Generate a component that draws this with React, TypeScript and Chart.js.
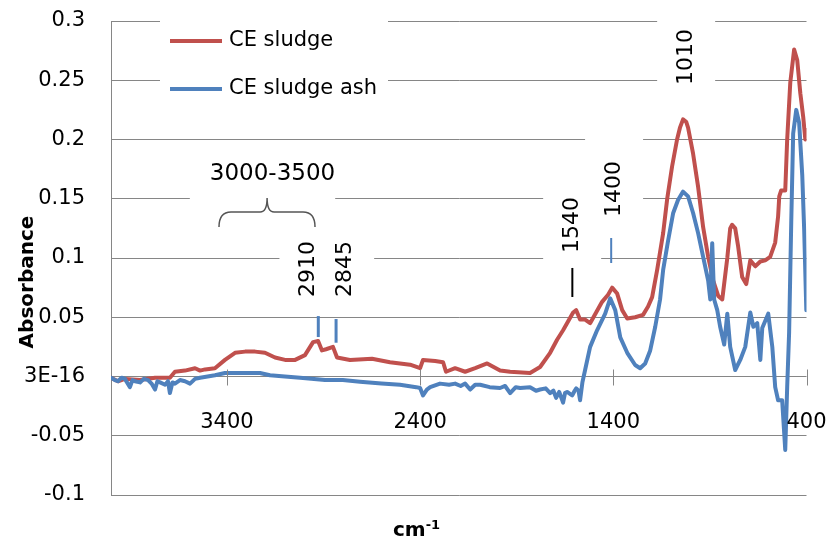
import React, { useEffect, useRef } from "react";
import { Chart, registerables } from "chart.js";

Chart.register(...registerables);

// ---- data (wavenumber cm-1, absorbance) ----
const seriesNames = ["CE sludge", "CE sludge ash"];

const sludgeWn = [
  4000, 3964, 3928, 3850, 3772, 3695, 3669, 3617, 3565, 3539, 3513, 3462, 3410, 3358, 3306, 3254,
  3203, 3151, 3099, 3047, 2996, 2954, 2928, 2908, 2887, 2851, 2830, 2763, 2649, 2556, 2452, 2400,
  2385, 2322, 2281, 2266, 2219, 2167, 2115, 2053, 1986, 1934, 1831, 1779, 1727, 1691, 1660, 1608,
  1592, 1572, 1546, 1520, 1489, 1458, 1427, 1406, 1380, 1354, 1328, 1287, 1246, 1220, 1199, 1173,
  1142, 1121, 1096, 1070, 1055, 1039, 1023, 1013, 987, 961, 935, 909, 883, 857, 836, 810, 795, 785,
  769, 754, 733, 712, 691, 665, 639, 614, 588, 562, 547, 541, 531, 510, 500, 484, 464, 448, 432,
  417, 406, 400,
];
const sludgeAbs = [
  -0.001, -0.004, -0.002, -0.003, -0.001, -0.001, 0.004, 0.005, 0.007, 0.005, 0.006, 0.007, 0.014,
  0.02, 0.021, 0.021, 0.02, 0.016, 0.014, 0.014, 0.018, 0.029, 0.03, 0.022, 0.023, 0.025, 0.016,
  0.014, 0.015, 0.012, 0.01, 0.007, 0.014, 0.013, 0.012, 0.004, 0.007, 0.004, 0.007, 0.011, 0.005,
  0.004, 0.003, 0.008, 0.02, 0.031, 0.039, 0.054, 0.056, 0.048, 0.048, 0.045, 0.054, 0.063, 0.069,
  0.075, 0.07, 0.056, 0.049, 0.05, 0.052, 0.059, 0.067, 0.09, 0.121, 0.15, 0.177, 0.2, 0.21, 0.217,
  0.215, 0.21, 0.188, 0.16, 0.126, 0.101, 0.081, 0.068, 0.065, 0.1, 0.125, 0.128, 0.125, 0.11,
  0.084, 0.078, 0.098, 0.093, 0.097, 0.098, 0.101, 0.113, 0.135, 0.152, 0.157, 0.157, 0.2, 0.248,
  0.276, 0.267, 0.239, 0.219, 0.2, 0.208,
];

const ashWn = [
  4000, 3980, 3964, 3945, 3928, 3902, 3889, 3876, 3850, 3830, 3808, 3790, 3772, 3760, 3746, 3720,
  3705, 3695, 3682, 3669, 3643, 3617, 3591, 3565, 3539, 3500, 3462, 3410, 3300, 3229, 3177, 3100,
  3021, 2892, 2800, 2711, 2600, 2504, 2420, 2400, 2385, 2365, 2348, 2297, 2250, 2219, 2190, 2167,
  2141, 2115, 2089, 2040, 1986, 1960, 1934, 1905, 1882, 1831, 1800, 1779, 1750, 1727, 1710, 1696,
  1680, 1660, 1650, 1639, 1613, 1600, 1592, 1580, 1572, 1560, 1546, 1520, 1484, 1442, 1416, 1390,
  1364, 1328, 1287, 1261, 1235, 1209, 1183, 1158, 1142, 1116, 1090, 1065, 1039, 1013, 987, 961,
  935, 909, 898, 888, 878, 862, 847, 826, 810, 795, 769, 743, 717, 691, 675, 655, 639, 629, 598,
  577, 562, 547, 526, 510, 500, 490, 479, 469, 453, 438, 422, 412, 401,
];
const ashAbs = [
  -0.001, -0.003, -0.004, -0.001, -0.002, -0.009, -0.003, -0.004, -0.005, -0.002, -0.003, -0.006,
  -0.011, -0.004, -0.005, -0.007, -0.004, -0.014, -0.005, -0.006, -0.003, -0.004, -0.006, -0.002,
  -0.001, 0.0, 0.001, 0.003, 0.003, 0.003, 0.001, 0.0, -0.001, -0.003, -0.003, -0.0045, -0.006,
  -0.007, -0.009, -0.0097, -0.016, -0.011, -0.009, -0.006, -0.007, -0.006, -0.008, -0.006, -0.011,
  -0.007, -0.007, -0.009, -0.0097, -0.008, -0.014, -0.009, -0.0097, -0.009, -0.012, -0.011, -0.01,
  -0.014, -0.012, -0.018, -0.013, -0.022, -0.014, -0.013, -0.016, -0.012, -0.01, -0.012, -0.02,
  -0.005, 0.0055, 0.025, 0.039, 0.053, 0.066, 0.056, 0.033, 0.02, 0.0097, 0.007, 0.011, 0.022,
  0.042, 0.065, 0.09, 0.115, 0.138, 0.149, 0.156, 0.152, 0.138, 0.121, 0.101, 0.081, 0.065, 0.1125,
  0.065, 0.056, 0.042, 0.027, 0.053, 0.025, 0.0055, 0.014, 0.025, 0.054, 0.042, 0.045, 0.014, 0.041,
  0.053, 0.025, -0.009, -0.02, -0.02, -0.062, -0.009, 0.037, 0.13, 0.205, 0.225, 0.214, 0.17, 0.124,
  0.056,
];

const xTickValues = [3400, 2400, 1400, 400];
const xTickLabels = ["3400", "2400", "1400", "400"];
const yTickLabels = ["-0.1", "-0.05", "3E-16", "0.05", "0.1", "0.15", "0.2", "0.25", "0.3"];

// annotation texts and where they sit (in data coordinates)
const peakLabels = [
  { text: "2910", wn: 2978, abs: 0.0671 },
  { text: "2845", wn: 2788, abs: 0.0671 },
  { text: "1540", wn: 1613, abs: 0.1042 },
  { text: "1400", wn: 1396, abs: 0.1346 },
  { text: "1010", wn: 1023, abs: 0.246 },
];
const peakMarks = [
  { wn: 2927, from: 0.0333, to: 0.051, color: "#4F81BD", width: 3 },
  { wn: 2835, from: 0.0285, to: 0.0485, color: "#4F81BD", width: 3 },
  { wn: 1612, from: 0.0671, to: 0.0916, color: "#000000", width: 2 },
  { wn: 1411, from: 0.0958, to: 0.1169, color: "#4F81BD", width: 2 },
];
const rangeLabel = { text: "3000-3500", wn: 3164, abs: 0.1658, braceFrom: 3441, braceTo: 2944, braceTip: 3192 };

const RED = "#C0504D";
const BLUE = "#4F81BD";
const GRID = "#868686";
const FONT = "DejaVu Sans";

const overlayPlugin = {
  id: "overlay",
  afterDraw(chart: any) {
    const { ctx, chartArea } = chart;
    const xs = chart.scales.x;
    const ys = chart.scales.y;
    const px = (v: number) => xs.getPixelForValue(v);
    const py = (v: number) => ys.getPixelForValue(v);
    ctx.save();

    // crossing tick marks and labels on the x axis (axis sits at y = 0)
    const zero = Math.round(py(0)) + 0.5;
    ctx.strokeStyle = GRID;
    ctx.lineWidth = 1;
    ctx.fillStyle = "#000";
    ctx.font = `21px "${FONT}"`;
    ctx.textAlign = "center";
    ctx.textBaseline = "middle";
    xTickValues.forEach((v, i) => {
      const x = Math.round(px(v)) + 0.5;
      ctx.beginPath();
      ctx.moveTo(x, zero - 8);
      ctx.lineTo(x, zero + 8);
      ctx.stroke();
      ctx.fillText(xTickLabels[i], px(v), zero + 45);
    });

    // white boxes behind the text boxes
    ctx.fillStyle = "#ffffff";
    ctx.fillRect(chartArea.left + 49, chartArea.top - 9, 228, 100);
    ctx.font = `22px "${FONT}"`;
    peakLabels.forEach((l) => {
      const cx = px(l.wn);
      const sy = py(l.abs);
      const w = ctx.measureText(l.text).width;
      ctx.fillRect(cx - 29, sy - w - 28, 58, w + 38);
    });
    ctx.font = `23px "${FONT}"`;
    {
      const cx = px(rangeLabel.wn);
      const by = py(rangeLabel.abs);
      const w = ctx.measureText(rangeLabel.text).width;
      ctx.fillRect(cx - w / 2 - 20, by - 35, w + 20, 60);
    }

    // legend
    const items = [
      { name: seriesNames[0], color: RED, y: chartArea.top + 20 },
      { name: seriesNames[1], color: BLUE, y: chartArea.top + 68 },
    ];
    items.forEach((it) => {
      ctx.strokeStyle = it.color;
      ctx.lineWidth = 4;
      ctx.beginPath();
      ctx.moveTo(chartArea.left + 59, it.y);
      ctx.lineTo(chartArea.left + 111, it.y);
      ctx.stroke();
      ctx.fillStyle = "#000";
      ctx.font = `21px "${FONT}"`;
      ctx.textAlign = "left";
      ctx.textBaseline = "middle";
      ctx.fillText(it.name, chartArea.left + 118, it.y);
    });

    // peak marks
    peakMarks.forEach((m) => {
      ctx.strokeStyle = m.color;
      ctx.lineWidth = m.width;
      const x = px(m.wn);
      ctx.beginPath();
      ctx.moveTo(x, py(m.from));
      ctx.lineTo(x, py(m.to));
      ctx.stroke();
    });

    // rotated peak labels
    ctx.fillStyle = "#000";
    ctx.font = `22px "${FONT}"`;
    peakLabels.forEach((l) => {
      ctx.save();
      ctx.translate(px(l.wn), py(l.abs));
      ctx.rotate(-Math.PI / 2);
      ctx.textAlign = "left";
      ctx.textBaseline = "middle";
      ctx.fillText(l.text, 0, 0);
      ctx.restore();
    });

    // range label and brace
    ctx.font = `23px "${FONT}"`;
    ctx.textAlign = "center";
    ctx.textBaseline = "alphabetic";
    ctx.fillText(rangeLabel.text, px(rangeLabel.wn), py(rangeLabel.abs));
    {
      const x1 = px(rangeLabel.braceFrom);
      const x2 = px(rangeLabel.braceTo);
      const xm = px(rangeLabel.braceTip);
      const yt = py(rangeLabel.abs) + 18;
      const ym = yt + 14;
      const yb = yt + 29;
      ctx.strokeStyle = "#555555";
      ctx.lineWidth = 1.5;
      ctx.beginPath();
      ctx.moveTo(x1, yb);
      ctx.quadraticCurveTo(x1, ym, x1 + 12, ym);
      ctx.lineTo(xm - 7, ym);
      ctx.quadraticCurveTo(xm, ym, xm, yt);
      ctx.quadraticCurveTo(xm, ym, xm + 7, ym);
      ctx.lineTo(x2 - 12, ym);
      ctx.quadraticCurveTo(x2, ym, x2, yb);
      ctx.stroke();
    }

    // axis titles
    ctx.fillStyle = "#000";
    ctx.font = `bold 20px "${FONT}"`;
    ctx.save();
    ctx.translate(28, 282);
    ctx.rotate(-Math.PI / 2);
    ctx.textAlign = "center";
    ctx.textBaseline = "middle";
    ctx.fillText("Absorbance", 0, 0);
    ctx.restore();

    ctx.textAlign = "left";
    ctx.textBaseline = "alphabetic";
    ctx.fillText("cm", 393, 536);
    const cmW = ctx.measureText("cm").width;
    ctx.font = `bold 13px "${FONT}"`;
    ctx.fillText("-1", 393 + cmW, 529);

    ctx.restore();
  },
};

export default function App() {
  const ref = useRef<HTMLCanvasElement>(null);
  useEffect(() => {
    const canvas = ref.current;
    if (!canvas) return;
    const chart = new Chart(canvas, {
      type: "line",
      data: {
        datasets: [
          {
            label: seriesNames[0],
            data: sludgeWn.map((w, i) => ({ x: w, y: sludgeAbs[i] })),
            borderColor: RED,
            backgroundColor: RED,
            borderWidth: 4,
            pointRadius: 0,
            tension: 0,
            borderJoinStyle: "round",
            borderCapStyle: "round",
            order: 1,
          },
          {
            label: seriesNames[1],
            data: ashWn.map((w, i) => ({ x: w, y: ashAbs[i] })),
            borderColor: BLUE,
            backgroundColor: BLUE,
            borderWidth: 4,
            pointRadius: 0,
            tension: 0,
            borderJoinStyle: "round",
            borderCapStyle: "round",
            order: 0,
          },
        ],
      },
      options: {
        animation: false,
        responsive: false,
        devicePixelRatio: 1,
        layout: { padding: { left: 0, top: 21, right: 21.5, bottom: 46 } },
        plugins: { legend: { display: false }, tooltip: { enabled: false }, title: { display: false } },
        scales: {
          x: {
            type: "linear",
            min: 400,
            max: 4000,
            reverse: true,
            position: "bottom",
            afterFit: (s: any) => {
              s.height = 0;
              s.paddingLeft = 0;
              s.paddingRight = 0;
            },
            ticks: { display: false },
            grid: { display: false, drawTicks: false },
            border: { display: false },
          },
          y: {
            type: "linear",
            min: -0.1,
            max: 0.3,
            afterFit: (s: any) => {
              s.width = 111;
              s.paddingTop = 0;
              s.paddingBottom = 0;
            },
            ticks: {
              stepSize: 0.05,
              padding: 26,
              color: "#000",
              font: { family: FONT, size: 21 },
              callback: (_v: any, i: number) => yTickLabels[i],
            },
            grid: { color: GRID, lineWidth: 1, drawTicks: false },
            border: { display: true, color: GRID, width: 1 },
          },
        },
      },
      plugins: [overlayPlugin],
    });
    return () => chart.destroy();
  }, []);
  return (
    <div style={{ position: "fixed", left: 0, top: 0, width: 828, height: 541, background: "#fff" }}>
      <canvas ref={ref} width={828} height={541} style={{ display: "block", width: 828, height: 541 }} />
    </div>
  );
}
